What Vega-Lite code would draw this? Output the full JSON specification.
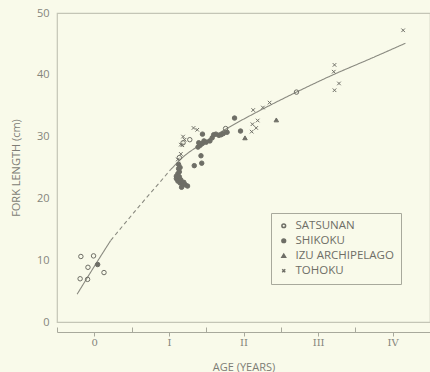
{
  "$schema": "https://vega.github.io/schema/vega-lite/v6.json",
  "width": 373,
  "height": 309,
  "autosize": "none",
  "padding": {"left": 57, "top": 13, "right": 0, "bottom": 50},
  "background": "#f9faea",
  "config": {
    "view": {"stroke": "#c4c5b6", "strokeWidth": 1.2},
    "font": "Open Sans",
    "axis": {"labelColor": "#85857c", "titleColor": "#7d7d75", "titleFontWeight": "normal", "labelFontSize": 11, "titleFontSize": 11, "grid": false}
  },
  "encoding": {
    "x": {
      "field": "age", "type": "quantitative",
      "scale": {"domain": [-0.5, 4.5], "nice": false, "zero": false},
      "axis": {
        "title": "AGE (YEARS)",
        "values": [-0.5, 0, 0.5, 1, 1.5, 2, 2.5, 3, 3.5, 4, 4.5],
        "labelExpr": "datum.value == 0 ? '0' : datum.value == 1 ? 'I' : datum.value == 2 ? 'II' : datum.value == 3 ? 'III' : datum.value == 4 ? 'IV' : ''",
        "offset": 10,
        "domain": true,
        "domainColor": "#a8a99c",
        "tickColor": "#a8a99c",
        "tickSize": {"condition": {"test": "datum.value % 1 != 0", "value": -5}, "value": 4},
        "labelPadding": 1,
        "labelFont": "DejaVu Serif",
        "labelFontSize": 10,
        "titlePadding": 14,
        "labelFlush": false
      }
    },
    "y": {
      "field": "len", "type": "quantitative",
      "scale": {"domain": [0, 50], "nice": false},
      "axis": {"title": "FORK LENGTH (cm)", "values": [0, 10, 20, 30, 40, 50], "ticks": false, "domain": false, "labelPadding": 8, "titlePadding": 15, "labelFlush": false}
    }
  },
  "layer": [
    {
      "data": {"values": [
        {"age": -0.23, "len": 4.5, "seg": "a", "kind": "solid"},
        {"age": 0.0, "len": 9.0, "seg": "a", "kind": "solid"},
        {"age": 0.22, "len": 13.2, "seg": "a", "kind": "solid"},
        {"age": 0.22, "len": 13.2, "seg": "b", "kind": "dashed"},
        {"age": 0.6, "len": 18.7, "seg": "b", "kind": "dashed"},
        {"age": 1.02, "len": 24.6, "seg": "b", "kind": "dashed"},
        {"age": 1.02, "len": 24.6, "seg": "c", "kind": "solid"},
        {"age": 1.2, "len": 26.8, "seg": "c", "kind": "solid"},
        {"age": 1.41, "len": 28.6, "seg": "c", "kind": "solid"},
        {"age": 1.76, "len": 31.2, "seg": "c", "kind": "solid"},
        {"age": 2.2, "len": 34.1, "seg": "c", "kind": "solid"},
        {"age": 2.71, "len": 37.2, "seg": "c", "kind": "solid"},
        {"age": 3.2, "len": 40.0, "seg": "c", "kind": "solid"},
        {"age": 3.7, "len": 42.6, "seg": "c", "kind": "solid"},
        {"age": 4.17, "len": 45.1, "seg": "c", "kind": "solid"}
      ]},
      "mark": {"type": "line", "color": "#8a8a80", "strokeWidth": 1.1, "interpolate": "monotone"},
      "encoding": {
        "detail": {"field": "seg"},
        "strokeDash": {"field": "kind", "type": "nominal", "scale": {"domain": ["solid", "dashed"], "range": [[1, 0], [4, 3]]}, "legend": null}
      }
    },
    {
      "data": {"values": [
        {"age": -0.18, "len": 10.6, "region": "SATSUNAN"},
        {"age": -0.01, "len": 10.7, "region": "SATSUNAN"},
        {"age": -0.085, "len": 8.85, "region": "SATSUNAN"},
        {"age": -0.19, "len": 7.0, "region": "SATSUNAN"},
        {"age": -0.09, "len": 6.9, "region": "SATSUNAN"},
        {"age": 0.13, "len": 8.0, "region": "SATSUNAN"},
        {"age": 1.14, "len": 26.6, "region": "SATSUNAN"},
        {"age": 1.19, "len": 29.0, "region": "SATSUNAN"},
        {"age": 1.28, "len": 29.5, "region": "SATSUNAN"},
        {"age": 1.76, "len": 31.3, "region": "SATSUNAN"},
        {"age": 2.71, "len": 37.2, "region": "SATSUNAN"},
        {"age": 0.045, "len": 9.3, "region": "SHIKOKU"},
        {"age": 1.13, "len": 25.5, "region": "SHIKOKU"},
        {"age": 1.13, "len": 24.8, "region": "SHIKOKU"},
        {"age": 1.12, "len": 24.0, "region": "SHIKOKU"},
        {"age": 1.14, "len": 24.3, "region": "SHIKOKU"},
        {"age": 1.15, "len": 25.0, "region": "SHIKOKU"},
        {"age": 1.1, "len": 23.2, "region": "SHIKOKU"},
        {"age": 1.1, "len": 23.6, "region": "SHIKOKU"},
        {"age": 1.14, "len": 23.5, "region": "SHIKOKU"},
        {"age": 1.12, "len": 22.8, "region": "SHIKOKU"},
        {"age": 1.16, "len": 23.0, "region": "SHIKOKU"},
        {"age": 1.15, "len": 22.5, "region": "SHIKOKU"},
        {"age": 1.18, "len": 22.3, "region": "SHIKOKU"},
        {"age": 1.2, "len": 22.6, "region": "SHIKOKU"},
        {"age": 1.22, "len": 22.2, "region": "SHIKOKU"},
        {"age": 1.25, "len": 22.0, "region": "SHIKOKU"},
        {"age": 1.17, "len": 21.8, "region": "SHIKOKU"},
        {"age": 1.34, "len": 25.3, "region": "SHIKOKU"},
        {"age": 1.44, "len": 25.7, "region": "SHIKOKU"},
        {"age": 1.43, "len": 26.9, "region": "SHIKOKU"},
        {"age": 1.45, "len": 30.4, "region": "SHIKOKU"},
        {"age": 1.39, "len": 28.3, "region": "SHIKOKU"},
        {"age": 1.4, "len": 29.0, "region": "SHIKOKU"},
        {"age": 1.42, "len": 28.6, "region": "SHIKOKU"},
        {"age": 1.45, "len": 28.9, "region": "SHIKOKU"},
        {"age": 1.47, "len": 29.3, "region": "SHIKOKU"},
        {"age": 1.5, "len": 29.1, "region": "SHIKOKU"},
        {"age": 1.55, "len": 29.3, "region": "SHIKOKU"},
        {"age": 1.58, "len": 29.8, "region": "SHIKOKU"},
        {"age": 1.6, "len": 30.3, "region": "SHIKOKU"},
        {"age": 1.63, "len": 30.4, "region": "SHIKOKU"},
        {"age": 1.67, "len": 30.2, "region": "SHIKOKU"},
        {"age": 1.7, "len": 30.3, "region": "SHIKOKU"},
        {"age": 1.73, "len": 30.5, "region": "SHIKOKU"},
        {"age": 1.78, "len": 30.7, "region": "SHIKOKU"},
        {"age": 1.88, "len": 33.0, "region": "SHIKOKU"},
        {"age": 1.96, "len": 30.9, "region": "SHIKOKU"},
        {"age": 2.02, "len": 29.8, "region": "IZU ARCHIPELAGO"},
        {"age": 2.44, "len": 32.7, "region": "IZU ARCHIPELAGO"},
        {"age": 4.14, "len": 47.2, "region": "TOHOKU"},
        {"age": 3.22, "len": 41.6, "region": "TOHOKU"},
        {"age": 3.21, "len": 40.5, "region": "TOHOKU"},
        {"age": 3.28, "len": 38.6, "region": "TOHOKU"},
        {"age": 3.22, "len": 37.5, "region": "TOHOKU"},
        {"age": 2.35, "len": 35.5, "region": "TOHOKU"},
        {"age": 2.26, "len": 34.7, "region": "TOHOKU"},
        {"age": 2.13, "len": 34.3, "region": "TOHOKU"},
        {"age": 2.19, "len": 32.6, "region": "TOHOKU"},
        {"age": 2.12, "len": 32.0, "region": "TOHOKU"},
        {"age": 2.17, "len": 31.4, "region": "TOHOKU"},
        {"age": 2.11, "len": 30.8, "region": "TOHOKU"},
        {"age": 1.33, "len": 31.4, "region": "TOHOKU"},
        {"age": 1.38, "len": 31.1, "region": "TOHOKU"},
        {"age": 1.19, "len": 30.0, "region": "TOHOKU"},
        {"age": 1.18, "len": 28.6, "region": "TOHOKU"},
        {"age": 1.16, "len": 28.7, "region": "TOHOKU"},
        {"age": 1.21, "len": 29.5, "region": "TOHOKU"},
        {"age": 1.16, "len": 27.2, "region": "TOHOKU"},
        {"age": 1.12, "len": 26.3, "region": "TOHOKU"}
      ]},
      "mark": {"type": "point", "strokeWidth": 1, "size": 20, "opacity": 1},
      "encoding": {
        "shape": {
          "field": "region", "type": "nominal",
          "scale": {"domain": ["SATSUNAN", "SHIKOKU", "IZU ARCHIPELAGO", "TOHOKU"], "range": ["circle", "circle", "triangle-up", "M-0.8,-0.8L0.8,0.8M-0.8,0.8L0.8,-0.8"]},
          "legend": {
            "title": null, "orient": "none", "legendX": 214, "legendY": 200,
            "strokeColor": "#a8a99c", "padding": 7, "labelFontSize": 11.5, "labelColor": "#6e6e66",
            "symbolSize": 14, "rowPadding": 2, "labelOffset": 6
          }
        },
        "fill": {
          "field": "region", "type": "nominal",
          "scale": {"domain": ["SATSUNAN", "SHIKOKU", "IZU ARCHIPELAGO", "TOHOKU"], "range": ["transparent", "#6e6e66", "#6e6e66", "transparent"]},
          "legend": {
            "title": null, "orient": "none", "legendX": 214, "legendY": 200,
            "strokeColor": "#a8a99c", "padding": 7, "labelFontSize": 11.5, "labelColor": "#6e6e66",
            "symbolSize": 14, "rowPadding": 2, "labelOffset": 6
          }
        },
        "stroke": {
          "field": "region", "type": "nominal",
          "scale": {"domain": ["SATSUNAN", "SHIKOKU", "IZU ARCHIPELAGO", "TOHOKU"], "range": ["#6e6e66", "#6e6e66", "#6e6e66", "#6e6e66"]},
          "legend": {
            "title": null, "orient": "none", "legendX": 214, "legendY": 200,
            "strokeColor": "#a8a99c", "padding": 7, "labelFontSize": 11.5, "labelColor": "#6e6e66",
            "symbolSize": 14, "rowPadding": 2, "labelOffset": 6
          }
        }
      }
    }
  ],
  "resolve": {"scale": {"strokeDash": "independent"}}
}
